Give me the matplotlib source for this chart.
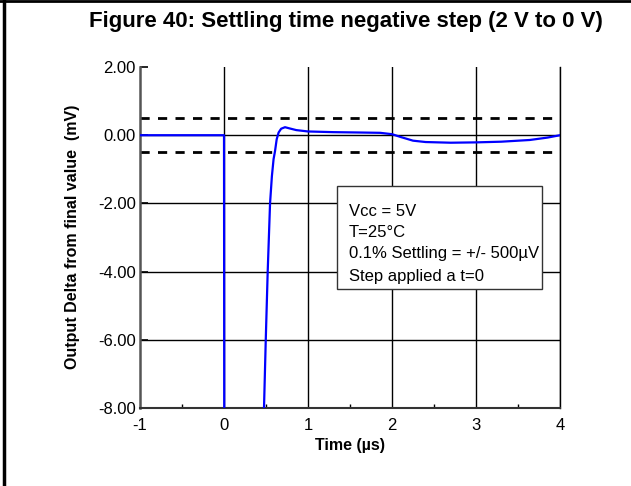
import matplotlib.pyplot as plt
from matplotlib.lines import Line2D
from matplotlib.patches import Rectangle

plt.rcParams['font.family'] = ['Liberation Sans', 'DejaVu Sans']
plt.rcParams['axes.unicode_minus'] = False

# measured trace (time in us, delta in mV)
time_us = [-1.0, -0.5, 0.0, 0.003, 0.471, 0.476, 0.497, 0.52, 0.548, 0.57,
           0.59, 0.607, 0.627, 0.65, 0.68, 0.726, 0.78, 0.86, 1.0, 1.3,
           1.6, 1.86, 2.0, 2.1, 2.25, 2.4, 2.7, 3.0, 3.3, 3.64, 3.85, 4.0]
delta_mv = [0.0, 0.0, 0.0, -9.0, -9.0, -8.0, -6.0, -4.0, -2.0, -1.2,
            -0.7, -0.47, -0.12, 0.08, 0.19, 0.235, 0.2, 0.15, 0.11, 0.09,
            0.08, 0.07, 0.03, -0.05, -0.16, -0.2, -0.22, -0.21, -0.19, -0.14, -0.07, 0.0]

settling_band = [0.5, -0.5]
x_ticks = [-1, 0, 1, 2, 3, 4]
y_ticks = [2, 0, -2, -4, -6, -8]
y_ticklabels = ['2.00', '0.00', '-2.00', '-4.00', '-6.00', '-8.00']
note_lines = ['Vcc = 5V', 'T=25°C', '0.1% Settling = +/- 500µV', 'Step applied a t=0']

fig = plt.figure(figsize=(6.31, 4.86), dpi=100)
ax = fig.add_axes([0.2219, 0.1605, 0.6656, 0.7016])

# grid
for x in x_ticks[1:]:
    ax.axvline(x, color='black', lw=1.0, zorder=1)
for y in y_ticks[1:-1]:
    ax.axhline(y, color='black', lw=1.0, zorder=1)

# settling band
for y in settling_band:
    ax.axhline(y, color='black', lw=2.0, linestyle=(0, (3.3, 3.0)), zorder=2)

ax.plot(time_us, delta_mv, color='#0000ff', lw=1.6, zorder=3)

ax.set_xlim(-1, 4)
ax.set_ylim(-8, 2)
ax.set_xticks(x_ticks)
ax.set_xticks([-0.5, 0.5, 1.5, 2.5, 3.5], minor=True)
ax.set_yticks(y_ticks)
ax.set_yticklabels(y_ticklabels)
ax.tick_params(axis='both', which='major', direction='in', labelsize=12, width=1.2)
ax.tick_params(axis='y', which='major', length=6, pad=3)
ax.tick_params(axis='x', which='major', length=0, pad=7)
ax.tick_params(axis='x', which='minor', direction='in', length=3, width=1.0)

ax.spines['top'].set_visible(False)
ax.spines['left'].set_color('#555555')
ax.spines['left'].set_linewidth(1.8)
ax.spines['bottom'].set_color('#333333')
ax.spines['bottom'].set_linewidth(1.5)
ax.spines['right'].set_color('black')
ax.spines['right'].set_linewidth(1.0)

# annotation box
ax.add_patch(Rectangle((1.345, -4.5), 2.44, 3.0, facecolor='white',
                       edgecolor='#333333', lw=1.0, zorder=4))
note_y = [-2.235, -2.85, -3.47, -4.15]
for txt, y in zip(note_lines, note_y):
    ax.text(1.488, y, txt, fontsize=12, ha='left', va='center', zorder=5)

fig.text(345.5 / 631, 1 - 21 / 486, 'Figure 40: Settling time negative step (2 V to 0 V)',
         fontsize=16, fontweight='bold', ha='center', va='center')
fig.text(73 / 631, 0.512, 'Output Delta from final value  (mV)', rotation=90,
         fontsize=11.5, fontweight='bold', ha='center', va='center')
fig.text(350 / 631, 1 - 445 / 486, 'Time (µs)', fontsize=11.5, fontweight='bold',
         ha='center', va='center')

# page frame (left and top edges)
fig.add_artist(Line2D([4 / 631, 4 / 631], [0, 1], color='black', lw=2.5))
fig.add_artist(Line2D([0, 1], [1 - 1 / 486, 1 - 1 / 486], color='black', lw=2.0))

fig.savefig('out.png', dpi=100)
